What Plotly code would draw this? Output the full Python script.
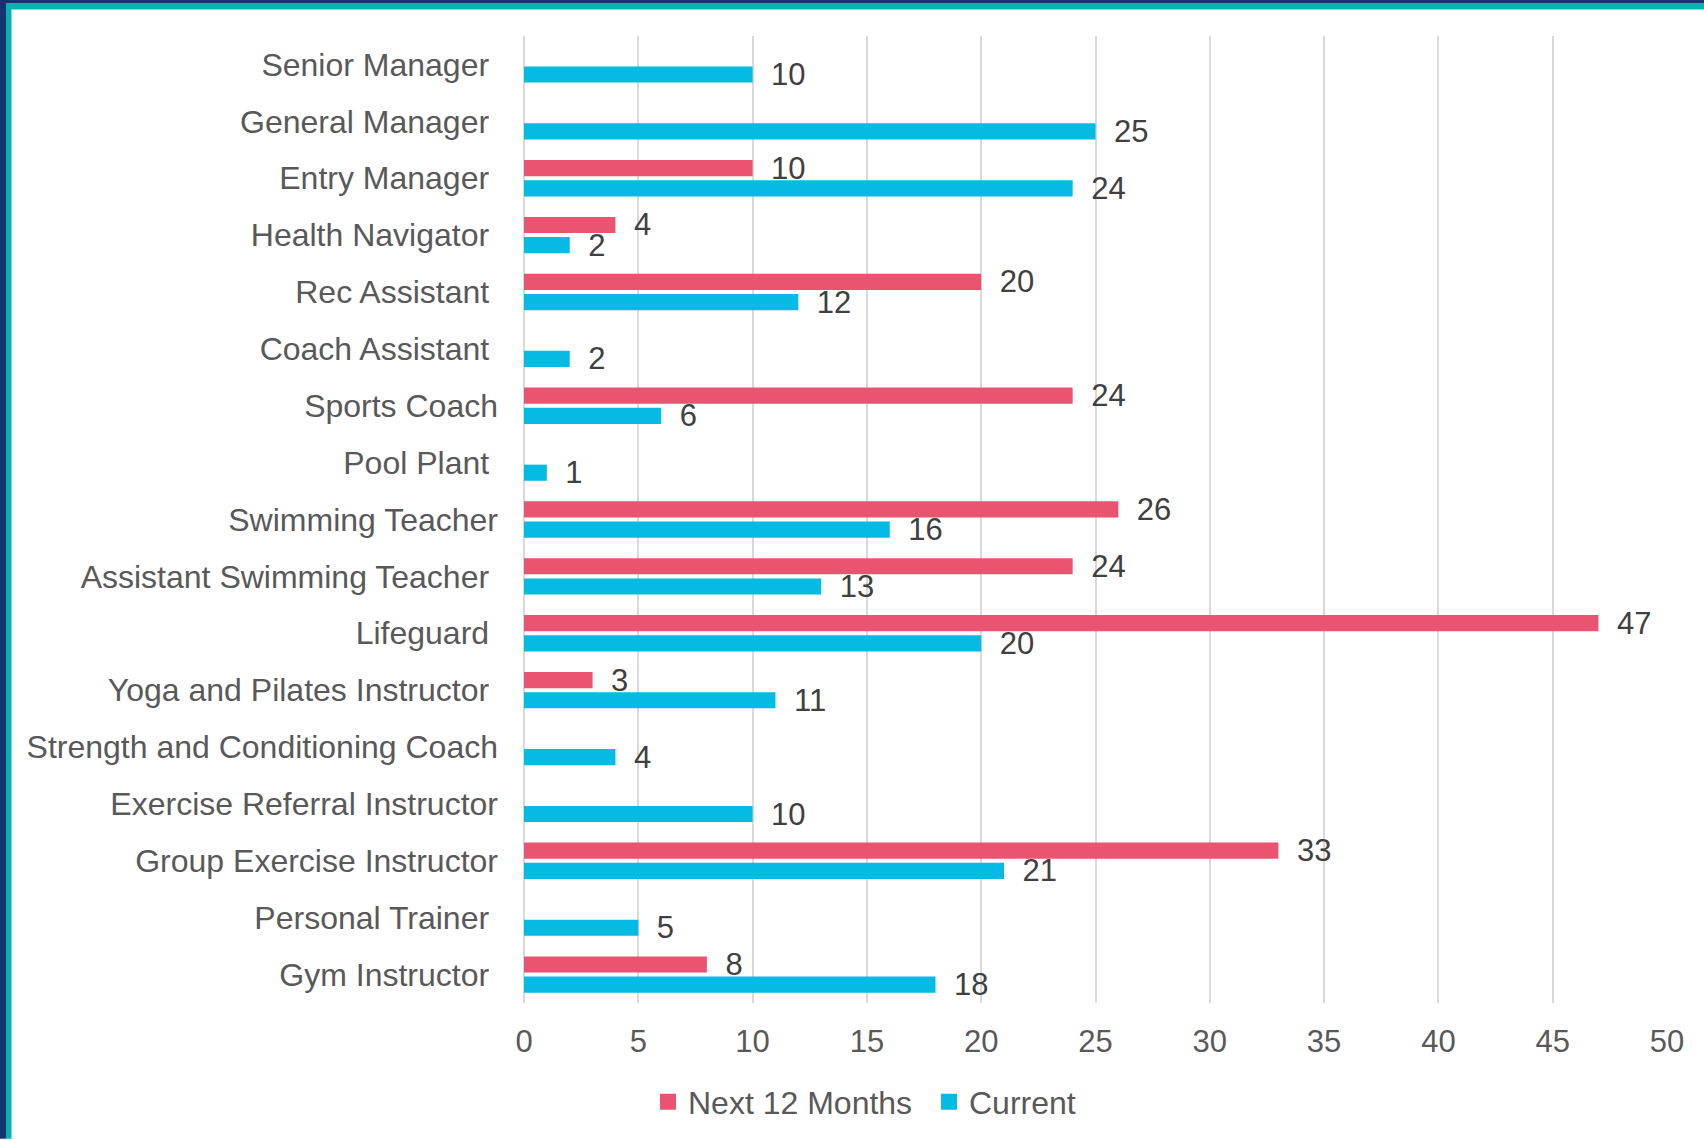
import plotly.graph_objects as go

# ---- data (bottom to top) ----
categories = [
    "Gym Instructor", "Personal Trainer", "Group Exercise Instructor",
    "Exercise Referral Instructor", "Strength and Conditioning Coach",
    "Yoga and Pilates Instructor", "Lifeguard", "Assistant Swimming Teacher",
    "Swimming Teacher", "Pool Plant", "Sports Coach", "Coach Assistant",
    "Rec Assistant", "Health Navigator", "Entry Manager", "General Manager",
    "Senior Manager",
]
next_12_months = [8, None, 33, None, None, 3, 47, 24, 26, None, 24, None, 20, 4, 10, None, None]
current = [18, 5, 21, 10, 4, 11, 20, 13, 16, 1, 6, 2, 12, 2, 24, 25, 10]
# labels that carried a trailing space in the original chart
trailing_space = {
    "Gym Instructor", "Personal Trainer", "Yoga and Pilates Instructor", "Lifeguard",
    "Assistant Swimming Teacher", "Pool Plant", "Coach Assistant", "Rec Assistant",
    "Health Navigator", "Entry Manager", "General Manager", "Senior Manager",
}
tick_labels = [c + ("\u00a0" if c in trailing_space else "") for c in categories]
x_ticks = [0, 5, 10, 15, 20, 25, 30, 35, 40, 45, 50]
series_names = ["Next 12 Months", "Current"]

RED = "#EA5470"
BLUE = "#05BAE3"
FONT = "Liberation Sans, Arial, sans-serif"
W, H = 1704, 1140
L, R, T, B = 524, 37, 36, 136

fig = go.Figure()
fig.add_trace(go.Bar(
    y=categories, x=current, orientation="h", name="Current", showlegend=False,
    marker=dict(color=BLUE, line=dict(width=0)),
    texttemplate="\u2002%{x}", textposition="outside", constraintext="none",
    textfont=dict(size=31, color="#404040", family=FONT), cliponaxis=False,
))
fig.add_trace(go.Bar(
    y=categories, x=next_12_months, orientation="h", name="Next 12 Months", showlegend=False,
    marker=dict(color=RED, line=dict(width=0)),
    texttemplate="\u2002%{x}", textposition="outside", constraintext="none",
    textfont=dict(size=31, color="#404040", family=FONT), cliponaxis=False,
))
# legend entries (square swatches)
for name, col in zip(series_names, [RED, BLUE]):
    fig.add_trace(go.Scatter(
        x=[None], y=[None], mode="markers", name=name,
        marker=dict(symbol="square", size=16, color=col), showlegend=True,
    ))

pw, ph = W - L - R, H - T - B
def px_x(v):
    return (v - L) / pw
def px_y(v):
    return (H - B - v) / ph

shapes = [
    # top border bands
    dict(type="rect", xref="paper", yref="paper", x0=px_x(0), x1=px_x(W), y0=px_y(10), y1=px_y(9),
         fillcolor="#7FDCD8", line=dict(width=0), layer="above"),
    dict(type="rect", xref="paper", yref="paper", x0=px_x(0), x1=px_x(W), y0=px_y(9), y1=px_y(3),
         fillcolor="#05B2B0", line=dict(width=0), layer="above"),
    dict(type="rect", xref="paper", yref="paper", x0=px_x(0), x1=px_x(W), y0=px_y(3), y1=px_y(0),
         fillcolor="#15336E", line=dict(width=0), layer="above"),
    # left border bands
    dict(type="rect", xref="paper", yref="paper", x0=px_x(11), x1=px_x(12), y0=px_y(H), y1=px_y(9),
         fillcolor="#7FDCD8", line=dict(width=0), layer="above"),
    dict(type="rect", xref="paper", yref="paper", x0=px_x(6), x1=px_x(11), y0=px_y(H), y1=px_y(3),
         fillcolor="#05B2B0", line=dict(width=0), layer="above"),
    dict(type="rect", xref="paper", yref="paper", x0=px_x(0), x1=px_x(6), y0=px_y(H), y1=px_y(0),
         fillcolor="#15336E", line=dict(width=0), layer="above"),
]

fig.update_layout(
    width=W, height=H,
    margin=dict(l=L, r=R, t=T, b=B, pad=0),
    paper_bgcolor="white", plot_bgcolor="white",
    barmode="group", bargap=0.29, bargroupgap=0.2,
    font=dict(family=FONT, size=32, color="#595959"),
    showlegend=True,
    legend=dict(orientation="h", traceorder="normal", x=px_x(929), xanchor="center",
                y=px_y(1102), yanchor="middle", font=dict(size=32, color="#595959"),
                bgcolor="rgba(0,0,0,0)", itemwidth=30, entrywidth=236, entrywidthmode="pixels"),
    xaxis=dict(range=[0, 50], tickvals=x_ticks, showgrid=True, gridcolor="#D9D9D9", gridwidth=2,
               zeroline=True, zerolinecolor="#D9D9D9", zerolinewidth=2, showline=False,
               ticks="", ticklabelstandoff=17, tickfont=dict(size=31, color="#595959")),
    yaxis=dict(type="category", categoryorder="array", categoryarray=categories,
               tickvals=categories, ticktext=tick_labels, showgrid=False, showline=False,
               zeroline=False, ticks="", ticklabelstandoff=25,
               tickfont=dict(size=32, color="#595959")),
    shapes=shapes,
)

fig.write_html("out.html", config={"displayModeBar": False},
               post_script="document.body.style.margin='0';document.body.style.overflow='hidden';")
